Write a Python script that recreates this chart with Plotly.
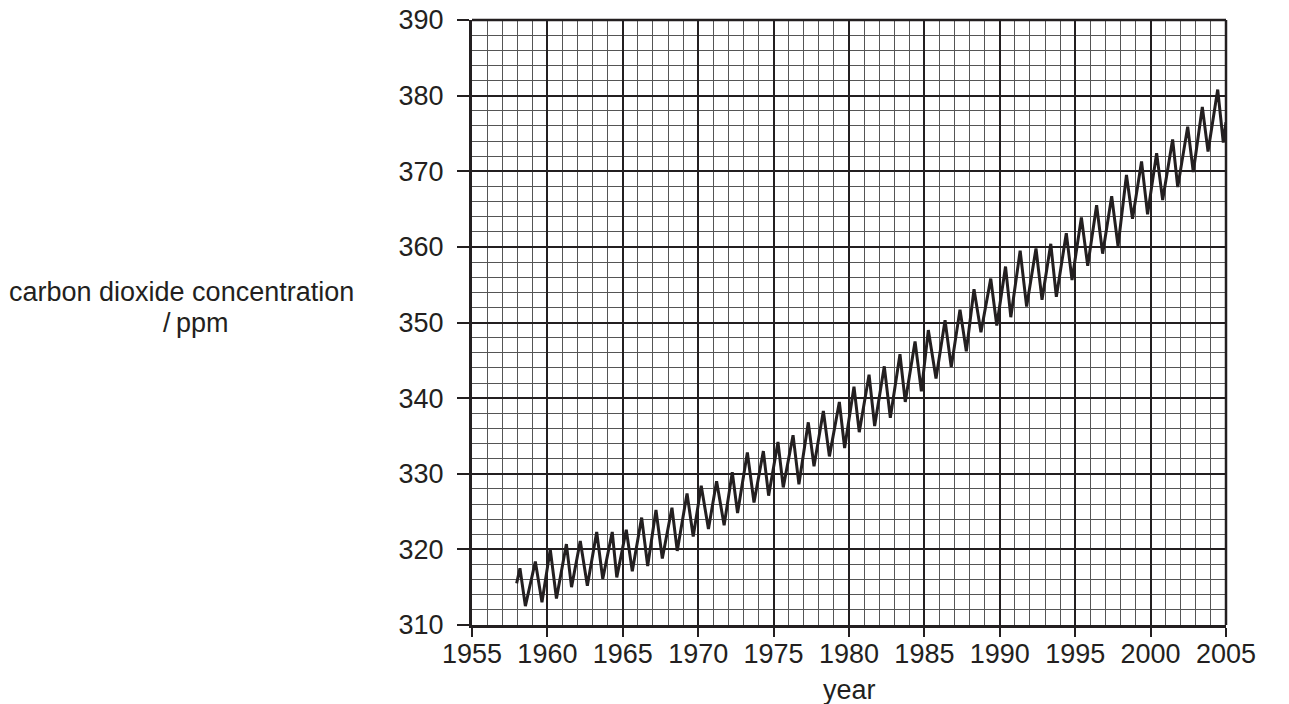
import plotly.graph_objects as go

# Data (year, CO2 ppm) – zig-zag vertices
years = [1957.96, 1958.18, 1958.54, 1959.2, 1959.64, 1960.19, 1960.6, 1961.26, 1961.6,
         1962.18, 1962.65, 1963.27, 1963.67, 1964.3, 1964.6, 1965.23, 1965.63, 1966.25,
         1966.65, 1967.2, 1967.62, 1968.26, 1968.61, 1969.26, 1969.67, 1970.2, 1970.68,
         1971.22, 1971.72, 1972.26, 1972.61, 1973.26, 1973.7, 1974.32, 1974.67, 1975.29,
         1975.64, 1976.29, 1976.68, 1977.3, 1977.68, 1978.3, 1978.7, 1979.36, 1979.71,
         1980.33, 1980.68, 1981.33, 1981.7, 1982.34, 1982.74, 1983.38, 1983.73, 1984.38,
         1984.8, 1985.26, 1985.77, 1986.37, 1986.78, 1987.36, 1987.78, 1988.29, 1988.75,
         1989.4, 1989.8, 1990.38, 1990.73, 1991.35, 1991.78, 1992.4, 1992.8, 1993.38,
         1993.75, 1994.41, 1994.79, 1995.41, 1995.83, 1996.42, 1996.82, 1997.42, 1997.84,
         1998.4, 1998.8, 1999.4, 1999.8, 2000.4, 2000.8, 2001.46, 2001.8, 2002.46, 2002.83,
         2003.43, 2003.81, 2004.45, 2004.82, 2005.0]
co2_ppm = [315.5, 317.5, 312.5, 318.4, 313.0, 320.0, 313.5, 320.7, 315.0,
           321.1, 315.2, 322.3, 316.1, 322.3, 316.3, 322.6, 317.1, 324.2,
           317.8, 325.2, 318.8, 325.5, 319.8, 327.4, 321.7, 328.4, 322.7,
           329.0, 323.2, 330.2, 324.8, 332.8, 326.2, 333.0, 327.1, 334.2,
           328.2, 335.1, 328.6, 336.8, 331.0, 338.3, 332.3, 339.5, 333.4,
           341.5, 335.5, 343.1, 336.3, 344.2, 337.4, 345.8, 339.5, 347.5,
           340.9, 349.0, 342.6, 350.3, 344.1, 351.7, 346.2, 354.4, 348.7,
           355.8, 349.6, 357.4, 350.7, 359.5, 352.1, 359.8, 353.0, 360.4,
           353.4, 361.8, 355.6, 363.9, 357.5, 365.5, 359.1, 366.7, 360.1,
           369.5, 363.7, 371.3, 364.3, 372.4, 366.2, 374.2, 367.9, 375.9, 369.9,
           378.5, 372.6, 380.8, 373.8, 376.5]

x_ticks = [1955, 1960, 1965, 1970, 1975, 1980, 1985, 1990, 1995, 2000, 2005]
y_ticks = [310, 320, 330, 340, 350, 360, 370, 380, 390]
y_title_lines = ["carbon dioxide concentration", "/\u2009ppm"]
x_title = "year"

INK = "#231f20"
FONT = "Liberation Sans, Arial, Helvetica, sans-serif"

fig = go.Figure()
fig.add_trace(go.Scatter(x=years, y=co2_ppm, mode="lines",
                         line=dict(color=INK, width=3), hoverinfo="skip",
                         showlegend=False, cliponaxis=True))

W, H = 1289, 704
L, R, T, B = 472, 1226, 20, 625

fig.update_layout(
    width=W, height=H,
    margin=dict(l=L, r=W - R, t=T, b=H - B, pad=0),
    paper_bgcolor="white", plot_bgcolor="white",
    font=dict(family=FONT, size=27, color=INK),
    xaxis=dict(range=[1955, 2005], tickvals=x_ticks, ticktext=[str(v) for v in x_ticks],
               showline=True, linewidth=3, linecolor=INK,
               ticks="outside", ticklen=9, tickwidth=2, tickcolor=INK,
               showgrid=True, gridcolor=INK, gridwidth=2, zeroline=False,
               minor=dict(dtick=1, tick0=1955, showgrid=True, gridcolor="#555555",
                          gridwidth=1, ticks=""),
               tickfont=dict(size=27, color=INK), ticklabelstandoff=-6,
               ticklabeloverflow="allow", automargin=False, fixedrange=True),
    yaxis=dict(range=[310, 390], tickvals=y_ticks, ticktext=[str(v) for v in y_ticks],
               showline=True, linewidth=3, linecolor=INK,
               ticks="outside", ticklen=12, tickwidth=2, tickcolor=INK,
               showgrid=True, gridcolor=INK, gridwidth=2, zeroline=False,
               minor=dict(dtick=2, tick0=310, showgrid=True, gridcolor="#555555",
                          gridwidth=1, ticks=""),
               tickfont=dict(size=27, color=INK), ticklabelstandoff=8,
               ticklabeloverflow="allow", automargin=False, fixedrange=True),
)

# top and right frame of the grid paper
fig.add_shape(type="line", xref="paper", yref="paper", x0=0, x1=1, y0=1, y1=1,
              line=dict(color=INK, width=2.5), layer="above")
fig.add_shape(type="line", xref="paper", yref="paper", x0=1, x1=1, y0=0, y1=1,
              line=dict(color=INK, width=2.5), layer="above")

pw, ph = R - L, B - T
for txt, cx, cy in zip(y_title_lines, [181, 195], [292, 323]):
    fig.add_annotation(text=txt, xref="paper", yref="paper",
                       x=(cx - L) / pw, y=(B - cy) / ph,
                       xanchor="center", yanchor="middle",
                       showarrow=False, font=dict(size=27, color=INK))
fig.add_annotation(text=x_title, xref="paper", yref="paper",
                   x=0.5, y=(B - 690) / ph, xanchor="center", yanchor="middle",
                   showarrow=False, font=dict(size=27, color=INK))

# remove the default 8px page margin so the figure fills the 1289x704 window
fig.write_html("out.html",
               config={"displayModeBar": False, "staticPlot": True},
               post_script="document.body.style.margin='0';document.body.style.overflow='hidden';")
